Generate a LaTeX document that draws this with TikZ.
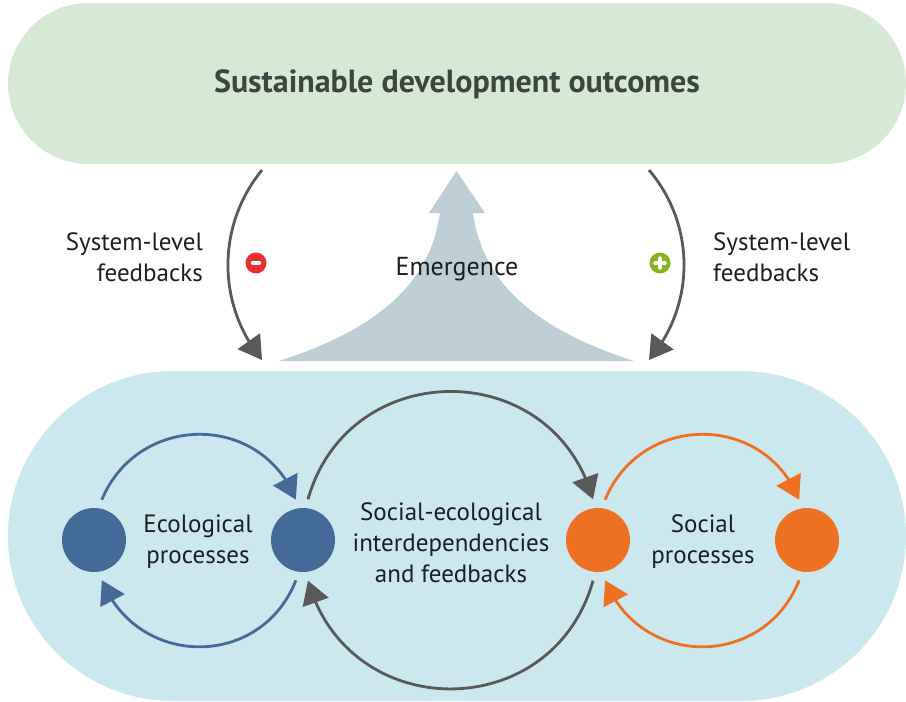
\documentclass[tikz,border=0pt]{standalone}
\usepackage{fontspec}
\setmainfont{PT Sans}
\usetikzlibrary{arrows.meta,bending}
\definecolor{pillgreen}{HTML}{D6E9D4}
\definecolor{pillblue}{HTML}{CCE8EF}
\definecolor{ecoblue}{HTML}{436A98}
\definecolor{socorange}{HTML}{EE7023}
\definecolor{linkgrey}{HTML}{595959}
\definecolor{emerge}{HTML}{BDCFD4}
\definecolor{minusred}{HTML}{E8302A}
\definecolor{plusgreen}{HTML}{85B51E}
\definecolor{titlegrey}{HTML}{3C453E}
\definecolor{labelink}{HTML}{1A1F22}
\tikzset{
  x=1pt,y=-1pt,
  pill/.style={draw=none,inner sep=0pt,outer sep=0pt},
  dot/.style={circle,draw=none,inner sep=0pt,minimum size=64pt,outer sep=9pt},
  loopline/.style={line width=2.8pt,-{Triangle[length=23pt,width=27pt]}},
  lab/.style={font=\fontsize{25}{31}\selectfont,text=labelink,inner sep=0pt,align=center},
  signdot/.style={circle,inner sep=0pt,minimum size=21pt,draw=none},
  signbar/.style={white,line width=3.4pt,line cap=round}
}
\begin{document}
\begin{tikzpicture}
\useasboundingbox (0,0) rectangle (906,702);
% pills
\node[pill,fill=pillgreen,minimum width=898pt,minimum height=161pt,rounded corners=80.5pt] (outcomes) at (457,83.5) {};
\node[pill,fill=pillblue,minimum width=898pt,minimum height=330pt,rounded corners=165pt] (system) at (457,536) {};
\node[font=\fontsize{32}{38}\selectfont\bfseries,text=titlegrey,inner sep=0pt] (title) at (457,84) {Sustainable development outcomes};
% emergence arrow
\fill[emerge] (456.5,171) -- (485,213) -- (473,213)
  .. controls (483,285) and (538,330) .. (634,361)
  -- (279,361)
  .. controls (375,330) and (430,285) .. (440,213)
  -- (429,213) -- cycle;
\node[lab,font=\fontsize{26}{31}\selectfont] (emergence) at (457,269) {Emergence};
% process circles
\node[dot,fill=ecoblue] (e1) at (94,540) {};
\node[dot,fill=ecoblue] (e2) at (303,540) {};
\node[dot,fill=socorange] (o1) at (598,540) {};
\node[dot,fill=socorange] (o2) at (807,540) {};
% loops
\draw[loopline,ecoblue] (e1.79) .. controls (138,413) and (261,412) .. (e2.100);
\draw[loopline,ecoblue] (e2.-100) .. controls (261,669) and (138,669) .. (e1.-79);
\draw[loopline,linkgrey] (e2.83) .. controls (348.5,356) and (552.5,355) .. (o1.97);
\draw[loopline,linkgrey] (o1.-97) .. controls (552.5,725) and (348.5,725) .. (e2.-83);
\draw[loopline,socorange] (o1.80) .. controls (641,413) and (764,412) .. (o2.101);
\draw[loopline,socorange] (o2.-101) .. controls (764,669) and (641,669) .. (o1.-80);
% system-level feedbacks
\coordinate (ls) at (262,170);
\coordinate (le) at (262,360);
\coordinate (rs) at (649,170);
\coordinate (re) at (649,360);
\draw[loopline,linkgrey] (ls) .. controls (216.6,225.3) and (216.6,304.7) .. (le);
\draw[loopline,linkgrey] (rs) .. controls (695.7,225) and (695.7,305) .. (re);
% signs
\node[signdot,fill=minusred] (minus) at (256,263) {};
\draw[signbar] ([xshift=-3.5pt]minus.center) -- ([xshift=3.5pt]minus.center);
\node[signdot,fill=plusgreen] (plus) at (660,263) {};
\draw[signbar] ([xshift=-5pt]plus.center) -- ([xshift=5pt]plus.center);
\draw[signbar] ([yshift=-5pt]plus.center) -- ([yshift=5pt]plus.center);
% labels
\node[lab,align=right,anchor=east] (sysl) at (203,257) {System-level\\feedbacks};
\node[lab,align=left,anchor=west] (sysr) at (713,257) {System-level\\feedbacks};
\node[lab] (eco) at (198,542) {Ecological\\processes};
\node[lab] (soceco) at (451,543) {Social-ecological\\interdependencies\\and feedbacks};
\node[lab] (soc) at (703,542) {Social\\processes};
\end{tikzpicture}
\end{document}
